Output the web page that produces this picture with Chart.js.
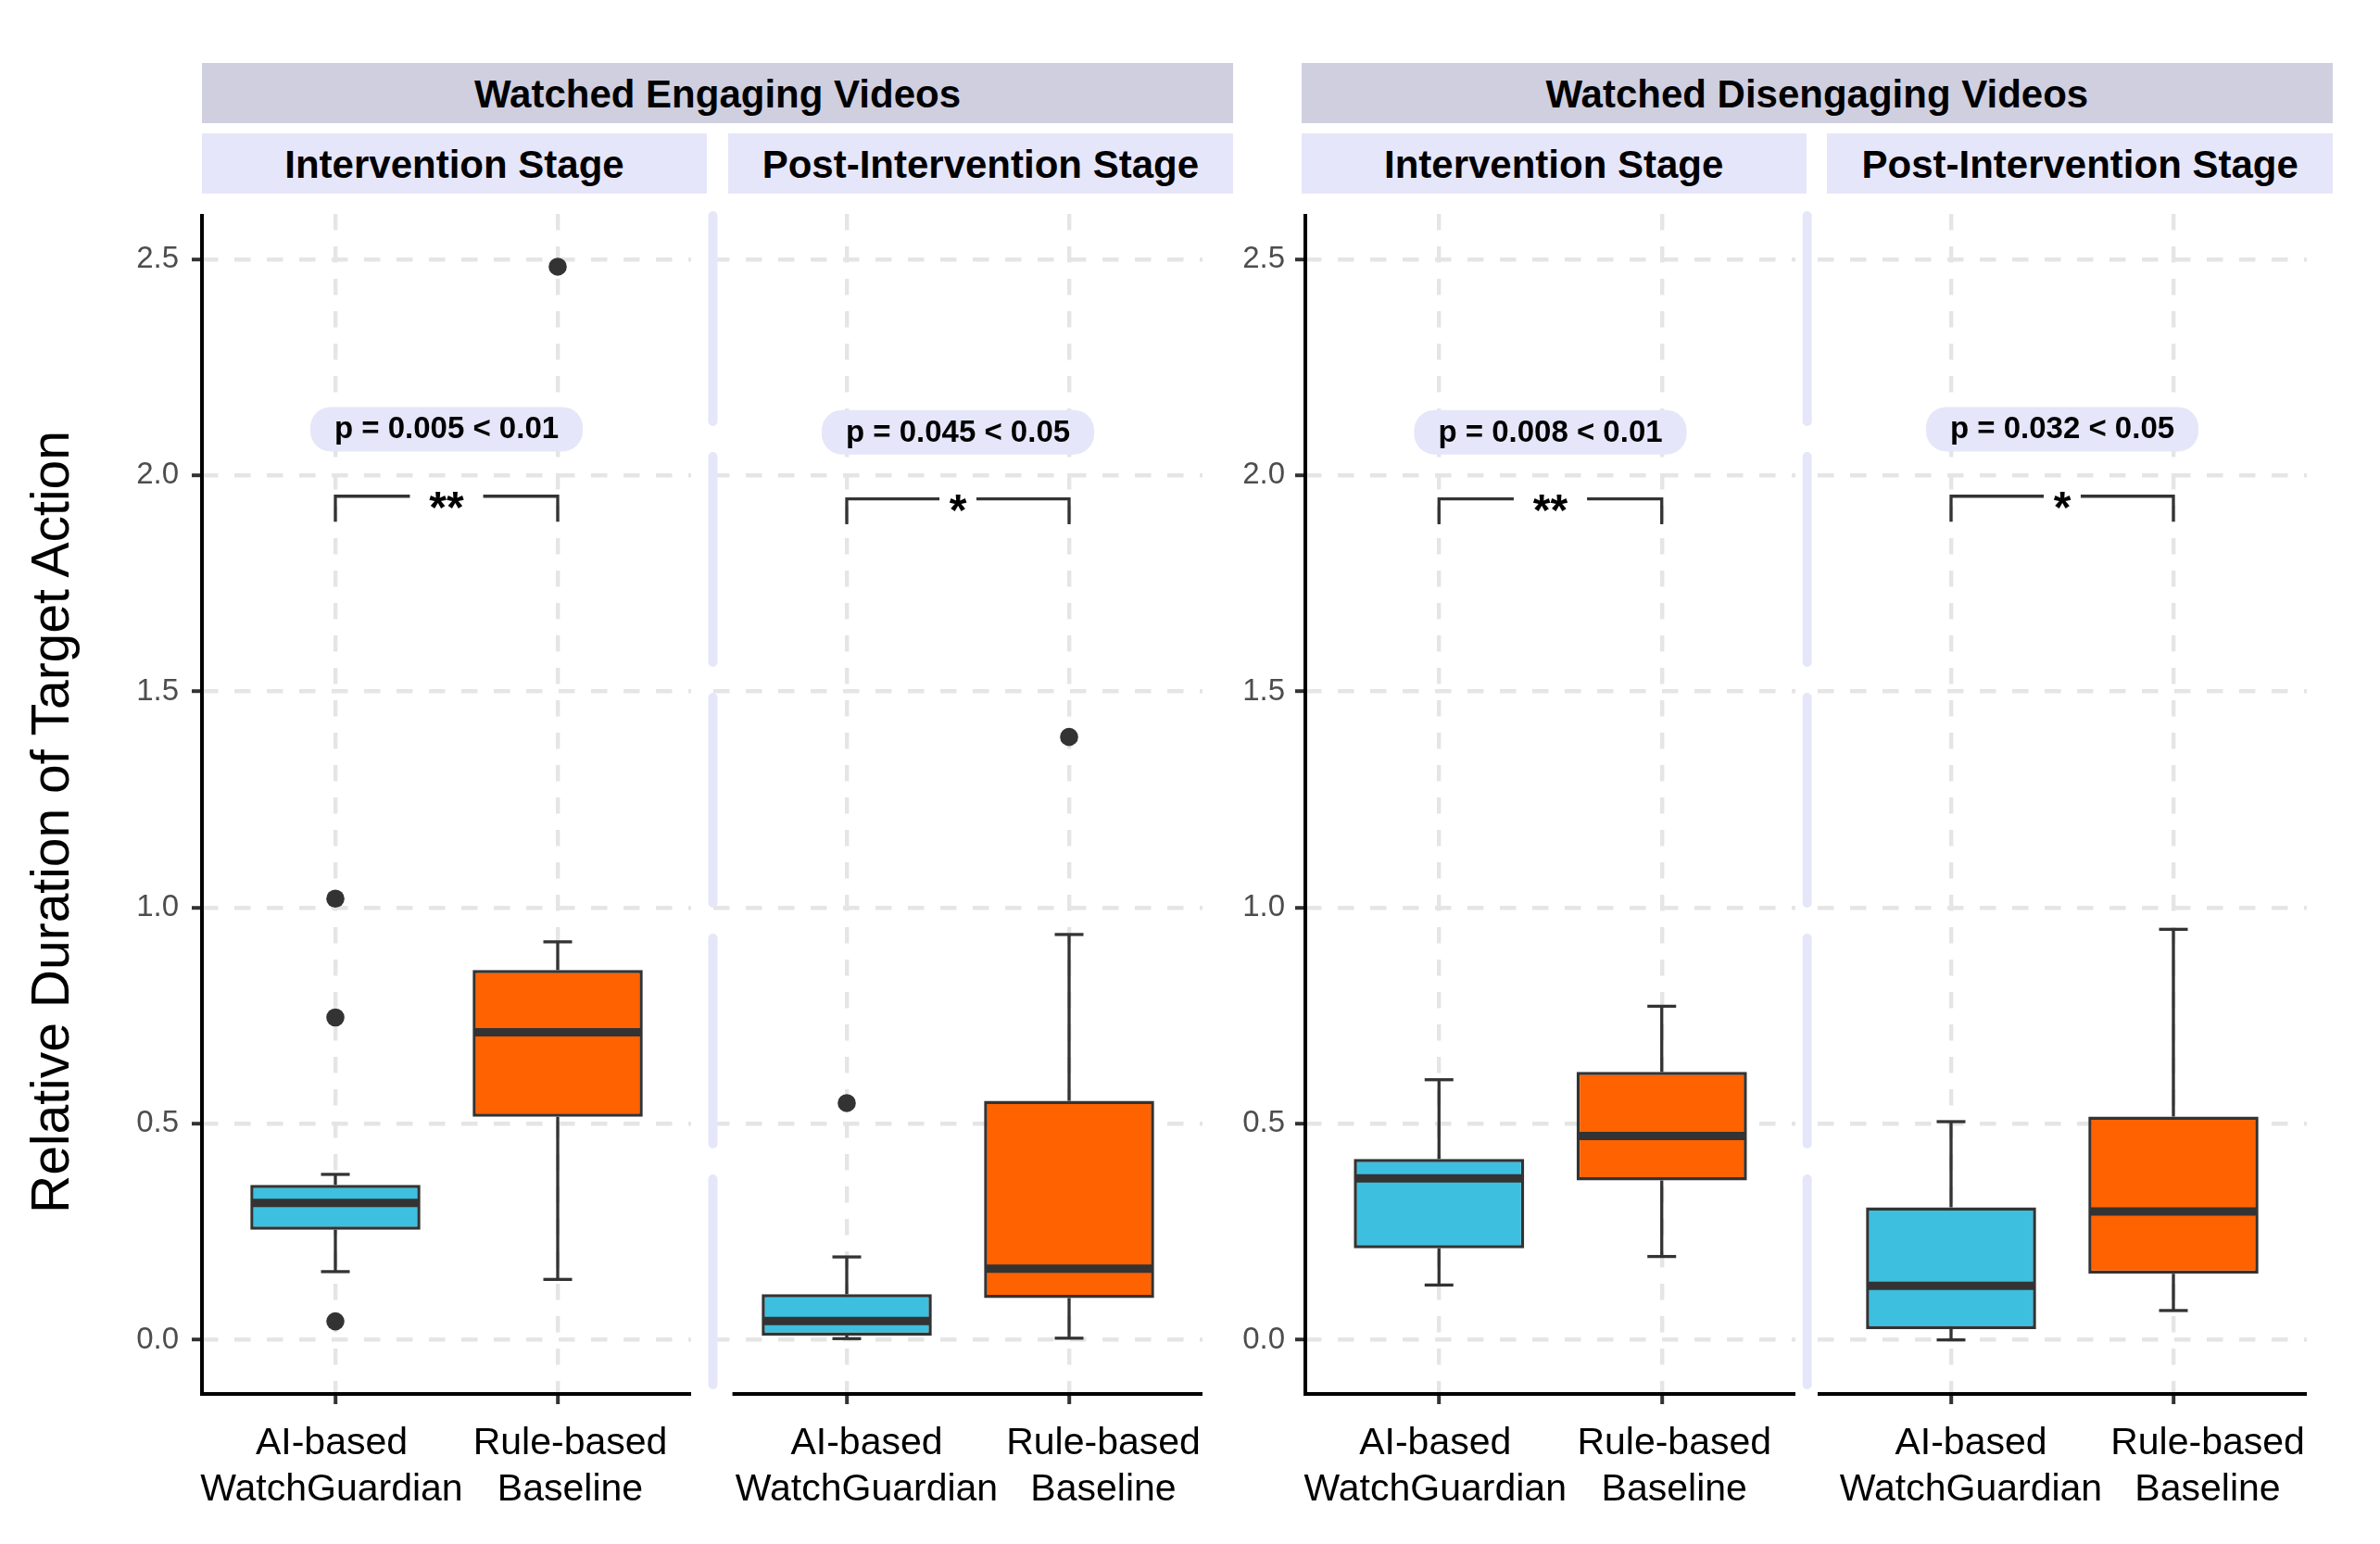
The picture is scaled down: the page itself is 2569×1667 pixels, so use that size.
<!DOCTYPE html>
<html><head><meta charset="utf-8">
<script src="https://cdn.jsdelivr.net/npm/chart.js@4.4.1/dist/chart.umd.min.js"></script>
<style>
html,body{margin:0;padding:0;background:#fff;}
#wrap{position:relative;width:2569px;height:1667px;overflow:hidden;background:#fff;font-family:"Liberation Sans",Arial,Helvetica,sans-serif;}
canvas{position:absolute;left:0;top:0;}
.strip{position:absolute;display:flex;align-items:center;justify-content:center;font-weight:bold;font-size:42px;color:#000;box-sizing:border-box;padding-top:4px;white-space:nowrap;}
.s1{background:#CFCFE0;}
.s2{background:#E6E6FA;}
#ytitle{position:absolute;width:1000px;height:57px;line-height:57px;font-size:57px;text-align:center;left:-446px;top:859px;transform:rotate(-90deg);white-space:nowrap;color:#000;}
</style></head>
<body><div id="wrap"><div id="strips"></div><div id="ytitle"></div>
<canvas id="c0" width="2569" height="1667"></canvas>
<canvas id="c1" width="2569" height="1667"></canvas>
<canvas id="c2" width="2569" height="1667"></canvas>
<canvas id="c3" width="2569" height="1667"></canvas>
</div>
<script>
// ---------------- DATA ----------------
const groupLabels = ["Watched Engaging Videos", "Watched Disengaging Videos"];
const stageLabels = ["Intervention Stage", "Post-Intervention Stage"];
const categories = [["AI-based", "WatchGuardian"], ["Rule-based", "Baseline"]];
const yTitle = "Relative Duration of Target Action";
const yTickValues = [0, 0.5, 1, 1.5, 2, 2.5];
const yTickLabels = ["0.0", "0.5", "1.0", "1.5", "2.0", "2.5"];
const xTickValues = [1, 2];
// per panel (Eng-Int, Eng-Post, Dis-Int, Dis-Post), per category [AI, Rule]
const lowWhisker  = [[0.158, 0.140], [0.003, 0.004], [0.127, 0.193], [0.000, 0.068]];
const q1          = [[0.255, 0.516], [0.010, 0.097], [0.212, 0.369], [0.025, 0.153]];
const median      = [[0.317, 0.712], [0.044, 0.165], [0.374, 0.472], [0.125, 0.297]];
const q3          = [[0.359, 0.856], [0.106, 0.553], [0.419, 0.620], [0.307, 0.517]];
const highWhisker = [[0.383, 0.921], [0.192, 0.938], [0.602, 0.772], [0.505, 0.950]];
const outlierValues = [[[0.043, 0.746, 1.021], [2.483]], [[0.548], [1.395]], [[], []], [[], []]];
const pValueLabels = ["p = 0.005 < 0.01", "p = 0.045 < 0.05", "p = 0.008 < 0.01", "p = 0.032 < 0.05"];
const sigStars = ["**", "*", "**", "*"];
const pLabelY = [2.107, 2.100, 2.100, 2.107];
const bracketY = [1.952, 1.946, 1.946, 1.952];
const bracketTipY = [1.893, 1.887, 1.887, 1.893];

// ---------------- STYLE / LAYOUT ----------------
const FONT = '"Liberation Sans", Arial, Helvetica, sans-serif';
const boxFill = ['#3DBFDF', '#FF6200'];
const dark = '#333333';
const gridColor = '#E5E5E5';
const lavender = '#E6E6FA';
const Y_MIN = -0.125, Y_MAX = 2.605, X_MIN = 0.4, X_MAX = 2.6;
const TOP = 231, BOTTOM = 1505, TICKH = 11, XH = 150, H = 1667, W = 2569;
const layouts = [
  {padL: 0,    yW: 218, right: 746,  showY: true,  axisY: 'black', axisX: 218,    xFrom: 218,   lblShift: [-4, 13.5], yPad: 14},
  {padL: 760,  yW: 10,  right: 1298, showY: false, axisY: 'lav',   axisX: 769.5,  xFrom: 790.6, lblShift: [21.5, 37], yPad: 14},
  {padL: 1300, yW: 109, right: 1938, showY: true,  axisY: 'black', axisX: 1409,   xFrom: 1409,  lblShift: [-4, 13.5], yPad: 11},
  {padL: 1952, yW: 10,  right: 2490, showY: false, axisY: 'lav',   axisX: 1950.7, xFrom: 1962,  lblShift: [21.5, 37], yPad: 14}
];
const stripTop = [[218, 1331], [1404.7, 2518]];
const stripSub = [[218, 763], [785.7, 1331], [1404.7, 1949.7], [1972.4, 2518]];

// strips + title (HTML text)
const strips = document.getElementById('strips');
stripTop.forEach((s, i) => {
  const d = document.createElement('div');
  d.className = 'strip s1'; d.textContent = groupLabels[i];
  Object.assign(d.style, {left: s[0] + 'px', width: (s[1] - s[0]) + 'px', top: '68.3px', height: '64.4px'});
  strips.appendChild(d);
});
stripSub.forEach((s, i) => {
  const d = document.createElement('div');
  d.className = 'strip s2'; d.textContent = stageLabels[i % 2];
  Object.assign(d.style, {left: s[0] + 'px', width: (s[1] - s[0]) + 'px', top: '144px', height: '64.7px'});
  strips.appendChild(d);
});
document.getElementById('ytitle').textContent = yTitle;

Chart.defaults.font.family = FONT;

function roundRectPath(ctx, x, y, w, h, r) {
  ctx.beginPath();
  ctx.moveTo(x + r, y);
  ctx.lineTo(x + w - r, y);
  ctx.arcTo(x + w, y, x + w, y + r, r);
  ctx.lineTo(x + w, y + h - r);
  ctx.arcTo(x + w, y + h, x + w - r, y + h, r);
  ctx.lineTo(x + r, y + h);
  ctx.arcTo(x, y + h, x, y + h - r, r);
  ctx.lineTo(x, y + r);
  ctx.arcTo(x, y, x + r, y, r);
  ctx.closePath();
}
function noPad(s) { s.paddingLeft = 0; s.paddingRight = 0; s.paddingTop = 0; s.paddingBottom = 0; }

function makePanel(p) {
  const L = layouts[p];
  const unitPx = (L.right - L.padL - L.yW) / (X_MAX - X_MIN);
  const boxData = xTickValues.map((x, c) => ({x: x, y: [q1[p][c], q3[p][c]]}));
  const medData = xTickValues.map((x, c) => ({x: x, y: median[p][c]}));
  const whisk = [];
  const caps = [];
  xTickValues.forEach((x, c) => {
    whisk.push({x: x, y: q3[p][c]}, {x: x, y: highWhisker[p][c]}, {x: x, y: null},
               {x: x, y: q1[p][c]}, {x: x, y: lowWhisker[p][c]}, {x: x, y: null});
    caps.push({x: x, y: highWhisker[p][c]}, {x: x, y: lowWhisker[p][c]});
  });
  const outs = [];
  xTickValues.forEach((x, c) => outlierValues[p][c].forEach(v => outs.push({x: x, y: v})));

  const extras = {
    id: 'extras' + p,
    afterDatasetsDraw(chart) {
      const ctx = chart.ctx, xs = chart.scales.x, ys = chart.scales.y;
      const x1 = xs.getPixelForValue(1), x2 = xs.getPixelForValue(2), xm = xs.getPixelForValue(1.5);
      ctx.save();
      // bracket with significance stars
      const yb = ys.getPixelForValue(bracketY[p]), yt = ys.getPixelForValue(bracketTipY[p]);
      ctx.font = 'bold 48px ' + FONT;
      const m = ctx.measureText(sigStars[p]);
      const vis = m.actualBoundingBoxLeft + m.actualBoundingBoxRight;
      const half = vis * 1.05;
      ctx.strokeStyle = dark; ctx.lineWidth = 3.3; ctx.lineCap = 'butt'; ctx.lineJoin = 'miter';
      ctx.beginPath();
      ctx.moveTo(x1, yt); ctx.lineTo(x1, yb); ctx.lineTo(xm - half, yb);
      ctx.moveTo(xm + half, yb); ctx.lineTo(x2, yb); ctx.lineTo(x2, yt);
      ctx.stroke();
      const targetC = yb + 4;
      const base = targetC + (m.actualBoundingBoxAscent - m.actualBoundingBoxDescent) / 2;
      ctx.fillStyle = '#000'; ctx.textAlign = 'center'; ctx.textBaseline = 'alphabetic';
      ctx.fillText(sigStars[p], xm, base);
      // p-value label
      ctx.font = 'bold 33px ' + FONT;
      const tw = ctx.measureText(pValueLabels[p]).width;
      const bw = tw + 52, bh = 48, cy = ys.getPixelForValue(pLabelY[p]);
      ctx.fillStyle = lavender;
      roundRectPath(ctx, xm - bw / 2, cy - bh / 2, bw, bh, 22);
      ctx.fill();
      ctx.fillStyle = '#000'; ctx.textBaseline = 'middle';
      ctx.fillText(pValueLabels[p], xm, cy + 1);
      ctx.restore();
    },
    afterDraw(chart) {
      const ctx = chart.ctx, a = chart.chartArea;
      ctx.save();
      ctx.strokeStyle = '#000'; ctx.lineWidth = 4; ctx.lineCap = 'butt';
      ctx.beginPath(); ctx.moveTo(L.xFrom, a.bottom); ctx.lineTo(a.right, a.bottom); ctx.stroke();
      if (L.axisY === 'black') {
        ctx.beginPath(); ctx.moveTo(L.axisX, a.top); ctx.lineTo(L.axisX, a.bottom + 2); ctx.stroke();
      } else {
        ctx.strokeStyle = lavender; ctx.lineWidth = 10; ctx.lineCap = 'round';
        ctx.setLineDash([222, 38]);
        ctx.beginPath(); ctx.moveTo(L.axisX, a.top + 2); ctx.lineTo(L.axisX, a.bottom - 10); ctx.stroke();
      }
      ctx.restore();
    }
  };

  return new Chart(document.getElementById('c' + p), {
    type: 'bar',
    data: {
      datasets: [
        {type: 'scatter', data: outs, pointStyle: 'circle', pointRadius: 9.8, pointHoverRadius: 9.8,
         pointBackgroundColor: dark, pointBorderWidth: 0, order: 0},
        {type: 'scatter', data: medData, pointStyle: 'line', pointRadius: 91, pointHoverRadius: 91,
         pointBorderColor: dark, pointBorderWidth: 9, order: 0},
        {type: 'bar', data: boxData, backgroundColor: boxFill, borderColor: dark, borderWidth: 3.5,
         borderSkipped: false, barPercentage: 0.765, categoryPercentage: 1, order: 1},
        {type: 'line', data: whisk, borderColor: dark, borderWidth: 3.3, pointRadius: 0, spanGaps: false,
         fill: false, tension: 0, order: 2},
        {type: 'scatter', data: caps, pointStyle: 'line', pointRadius: 15.5, pointHoverRadius: 15.5,
         pointBorderColor: dark, pointBorderWidth: 3.3, order: 2}
      ]
    },
    options: {
      responsive: false, maintainAspectRatio: false, animation: false, events: [],
      layout: {autoPadding: false, padding: {left: L.padL, right: W - L.right, top: TOP, bottom: H - BOTTOM - XH}},
      plugins: {legend: {display: false}, tooltip: {enabled: false}, title: {display: false}},
      scales: {
        x: {
          type: 'linear', min: X_MIN, max: X_MAX, offset: false, weight: 0,
          afterBuildTicks: s => { s.ticks = xTickValues.map(v => ({value: v})); },
          afterFit: s => { s.height = TICKH; noPad(s); },
          grid: {color: gridColor, lineWidth: 4.4, drawTicks: true, tickLength: TICKH, tickColor: dark, tickWidth: 4, offset: false},
          border: {display: false, dash: [17.5, 17.5]},
          ticks: {display: false}
        },
        xLabels: {
          type: 'linear', position: 'bottom', min: X_MIN, max: X_MAX, offset: false, weight: 1,
          afterBuildTicks: s => { s.ticks = xTickValues.map((v, i) => ({value: v + L.lblShift[i] / unitPx})); },
          afterFit: s => { s.height = XH - TICKH; noPad(s); },
          grid: {display: false, drawTicks: false},
          border: {display: false},
          ticks: {autoSkip: false, maxRotation: 0, minRotation: 0, padding: 18,
                  color: '#000', font: {size: 41, lineHeight: 1.2195},
                  callback: (v, i) => categories[i]}
        },
        y: {
          type: 'linear', min: Y_MIN, max: Y_MAX,
          afterBuildTicks: s => { s.ticks = yTickValues.map(v => ({value: v})); },
          afterFit: s => { s.width = L.yW; noPad(s); },
          grid: {color: gridColor, lineWidth: 4.4, drawTicks: L.showY, tickLength: 11, tickColor: dark, tickWidth: 4},
          border: {display: false, dash: [17.5, 17.5]},
          ticks: {display: L.showY, padding: L.yPad, color: '#4D4D4D', font: {size: 33},
                  callback: (v, i) => yTickLabels[i]}
        }
      }
    },
    plugins: [extras]
  });
}
[0, 1, 2, 3].forEach(makePanel);
</script>
</body></html>
